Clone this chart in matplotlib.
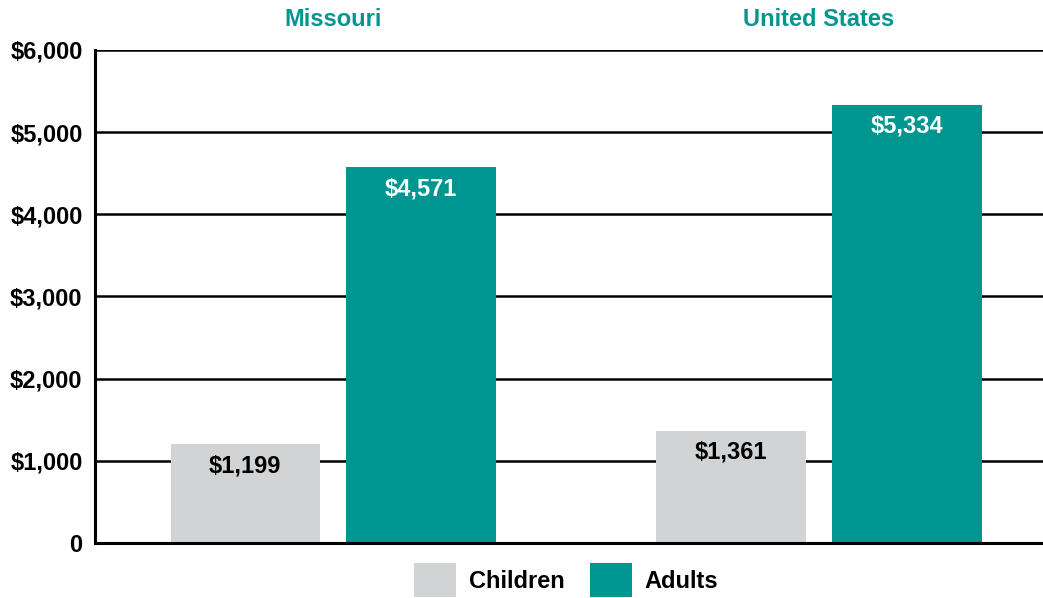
import matplotlib
matplotlib.use("Agg")
from matplotlib import pyplot as plt
from matplotlib.patches import Patch
from matplotlib.transforms import blended_transform_factory

# data
groups = ["Missouri", "United States"]
series = ["Children", "Adults"]
children = [1199, 1361]
adults = [4571, 5334]
yticks = [0, 1000, 2000, 3000, 4000, 5000, 6000]
ytick_labels = ["0", "$1,000", "$2,000", "$3,000", "$4,000", "$5,000", "$6,000"]

teal = "#009690"
grey = "#D1D3D4"

plt.rcParams["font.family"] = ["Liberation Sans", "DejaVu Sans"]
plt.rcParams["font.weight"] = "bold"

fig = plt.figure(figsize=(10.43, 5.98), dpi=100)
ax = fig.add_axes([0.0911, 0.092, 0.9089, 0.8244])

width = 0.307
off = 0.181
xs = list(range(len(groups)))
b1 = ax.bar([x - off for x in xs], children, width, color=grey, zorder=3)
b2 = ax.bar([x + off for x in xs], adults, width, color=teal, zorder=3)

# value labels inside the bar tops
for rect, v in zip(b1, children):
    ax.annotate("${:,}".format(v), (rect.get_x() + rect.get_width() / 2, v),
                xytext=(0, -7), textcoords="offset points", ha="center", va="top",
                fontsize=17, fontweight="bold", color="black", zorder=4)
for rect, v in zip(b2, adults):
    ax.annotate("${:,}".format(v), (rect.get_x() + rect.get_width() / 2, v),
                xytext=(0, -7), textcoords="offset points", ha="center", va="top",
                fontsize=17, fontweight="bold", color="white", zorder=4)

# group titles above the plot
trans = blended_transform_factory(ax.transData, ax.transAxes)
for x, g in zip(xs, groups):
    ax.text(x, 1.061, g, transform=trans, ha="center", va="center",
            fontsize=17, fontweight="bold", color=teal)

ax.set_xlim(-0.49, 1.461)
ax.set_ylim(0, 6000)
ax.set_yticks(yticks)
ax.set_yticklabels(ytick_labels, fontsize=17, fontweight="bold")
ax.set_xticks([])
ax.tick_params(axis="y", length=0, pad=9)

ax.yaxis.grid(True, color="black", linewidth=1.8, zorder=0)
ax.set_axisbelow(True)
for s in ["top", "right"]:
    ax.spines[s].set_visible(False)
ax.spines["left"].set_linewidth(2.2)
ax.spines["bottom"].set_linewidth(2.2)
ax.spines["bottom"].set_zorder(5)

handles = [Patch(facecolor=grey), Patch(facecolor=teal)]
fig.legend(handles, series, loc="center", bbox_to_anchor=(0.543, 0.03),
           ncol=2, frameon=False, handlelength=1.75, handleheight=1.8,
           handletextpad=0.55, columnspacing=1.1, borderpad=0,
           prop={"weight": "bold", "size": 17})

fig.savefig("out.png", dpi=100)
